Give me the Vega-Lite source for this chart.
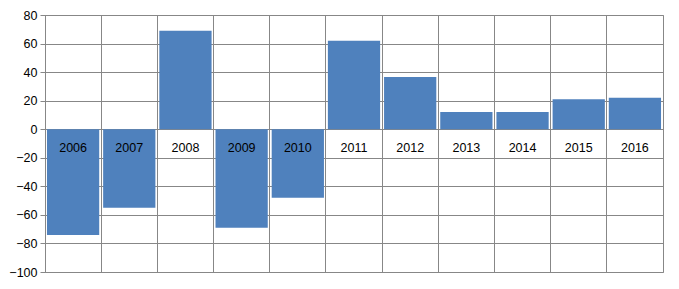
{
  "$schema": "https://vega.github.io/schema/vega-lite/v6.json",
  "width": 618,
  "height": 257,
  "autosize": {"type": "none"},
  "padding": {"left": 45, "top": 15, "right": 16, "bottom": 17},
  "background": "white",
  "data": {"values": [
    {"year": "2006", "value": -74},
    {"year": "2007", "value": -55},
    {"year": "2008", "value": 69},
    {"year": "2009", "value": -69},
    {"year": "2010", "value": -48},
    {"year": "2011", "value": 62},
    {"year": "2012", "value": 36.5},
    {"year": "2013", "value": 12},
    {"year": "2014", "value": 12},
    {"year": "2015", "value": 21},
    {"year": "2016", "value": 22}
  ]},
  "encoding": {
    "x": {"field": "year", "type": "nominal", "sort": null,
      "scale": {"paddingInner": 0, "paddingOuter": 0},
      "axis": {"title": null, "labels": false, "ticks": false, "domain": false, "grid": true, "bandPosition": 0, "gridColor": "#878787", "gridWidth": 1, "gridOpacity": 1}}
  },
  "layer": [
    {
      "mark": {"type": "bar", "color": "#4F81BD", "width": {"band": 0.93}},
      "encoding": {
        "y": {"field": "value", "type": "quantitative",
          "scale": {"domain": [-100, 80], "nice": false, "zero": false},
          "axis": {"title": null, "values": [-100, -80, -60, -40, -20, 0, 20, 40, 60, 80],
            "grid": true, "gridColor": "#878787", "gridOpacity": 1,
            "domainColor": "#878787", "tickColor": "#878787", "tickSize": 5,
            "labelFont": "Liberation Sans", "labelFontSize": 12.5, "labelColor": "#000000",
            "labelPadding": 3, "labelOverlap": false, "labelFlush": false}}
      }
    },
    {
      "mark": {"type": "text", "dy": 19, "font": "Liberation Sans", "fontSize": 12.5, "color": "#000000", "baseline": "middle"},
      "encoding": {
        "y": {"datum": 0, "type": "quantitative",
          "axis": {"title": null, "values": [-100, -80, -60, -40, -20, 0, 20, 40, 60, 80],
            "grid": true, "gridColor": "#878787", "gridOpacity": 1,
            "domainColor": "#878787", "tickColor": "#878787", "tickSize": 5,
            "labelFont": "Liberation Sans", "labelFontSize": 12.5, "labelColor": "#000000",
            "labelPadding": 3, "labelOverlap": false, "labelFlush": false}},
        "text": {"field": "year"}
      }
    }
  ],
  "config": {
    "view": {"stroke": "#878787", "strokeWidth": 1}
  }
}
